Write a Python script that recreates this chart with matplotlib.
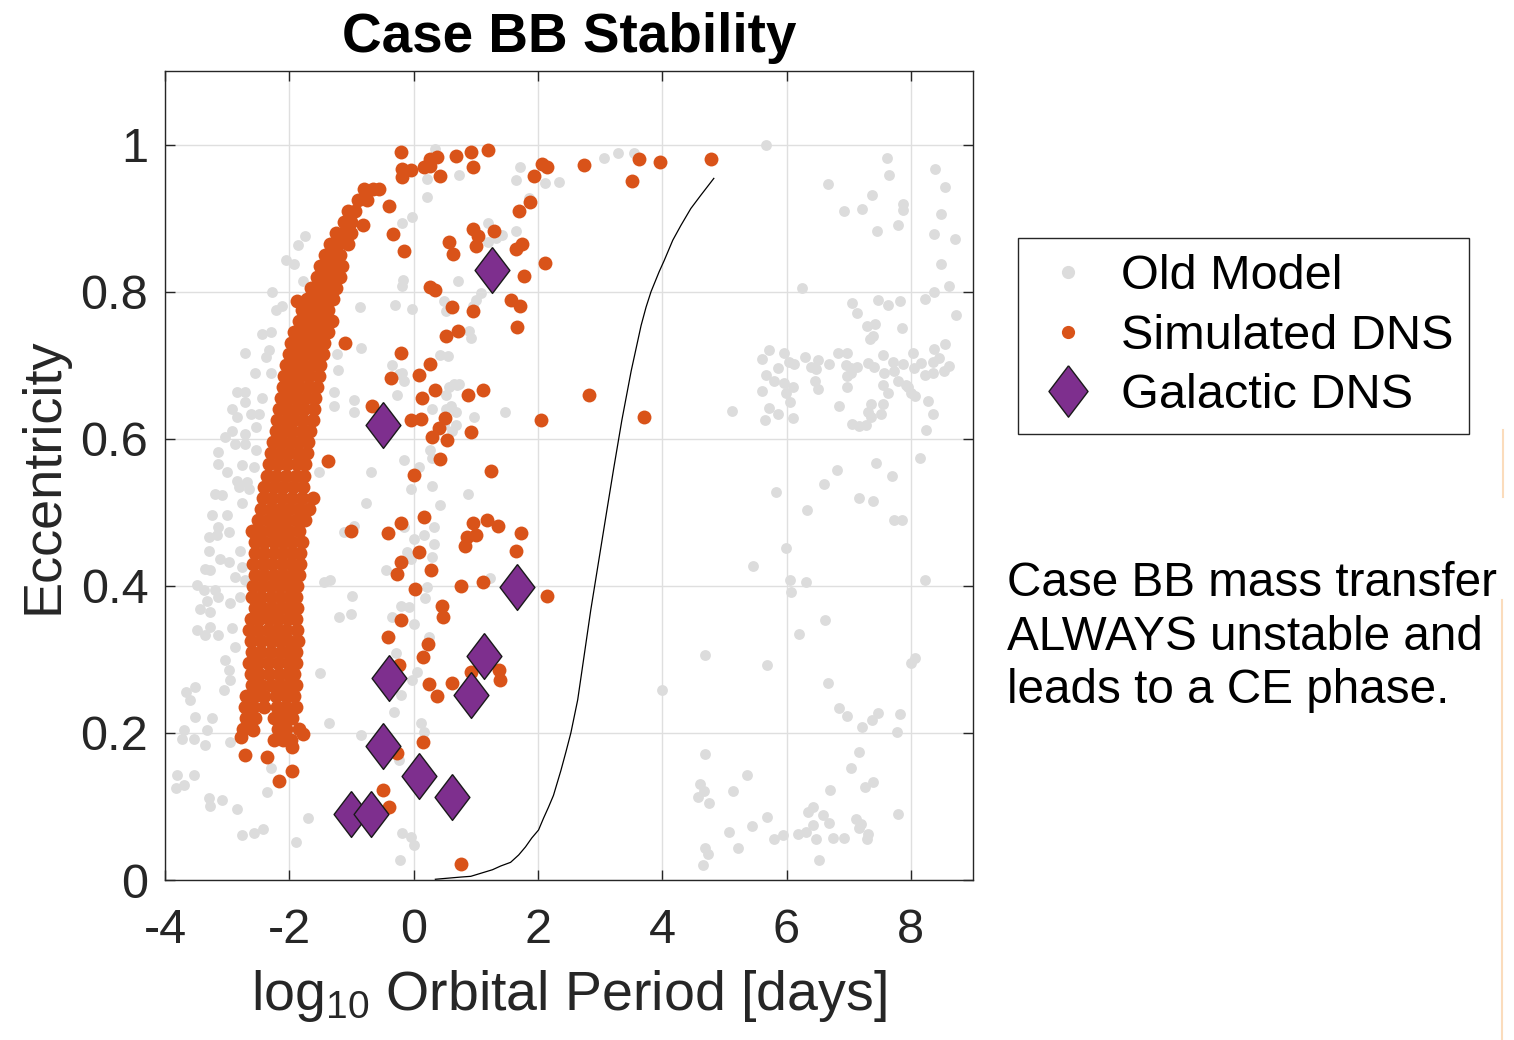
import numpy as np
import matplotlib
matplotlib.use("Agg")
import matplotlib.pyplot as plt
from matplotlib.lines import Line2D

plt.rcParams['font.family'] = ['Liberation Sans', 'DejaVu Sans']
plt.rcParams['mathtext.fontset'] = 'custom'
plt.rcParams['mathtext.rm'] = 'Liberation Sans'
plt.rcParams['mathtext.default'] = 'regular'

# ---- data (log10 P [days], eccentricity) ----
# old model points (grey)
old_left = [(-1.74,0.875),(-1.86,0.863),(-2.06,0.843),(-1.93,0.838),(-1.78,0.815),(-2.28,0.799),(-2.11,0.781),
            (-2.22,0.775),(-2.44,0.743),(-2.29,0.745),(-2.71,0.716),(-2.33,0.720),(-2.38,0.711),(-2.56,0.690),
            (-2.30,0.690),(-2.71,0.663),(-2.84,0.663),(-2.72,0.650),(-2.92,0.641),(-2.84,0.629),(-2.44,0.656),
            (-2.62,0.634),(-2.49,0.634),(-3.03,0.602),(-2.92,0.611),(-2.71,0.607),(-2.54,0.616),(-2.87,0.593),
            (-2.71,0.593),(-3.15,0.582),(-2.54,0.584),(-3.14,0.566),(-3.00,0.555),(-2.76,0.564),(-2.57,0.562),
            (-2.84,0.543),(-2.68,0.541),(-3.19,0.525),(-3.08,0.523),(-2.81,0.534),(-2.65,0.532),(-2.76,0.512),
            (-3.14,0.480),(-3.24,0.496),(-3.00,0.496),(-3.30,0.466),(-3.30,0.448),(-3.16,0.469),(-2.97,0.473),
            (-3.11,0.437),(-2.97,0.432),(-3.35,0.423),(-3.27,0.421),(-2.79,0.448),(-2.76,0.426),(-2.87,0.412),
            (-2.71,0.408),(-3.48,0.401),(-3.38,0.394),(-3.19,0.394),(-3.33,0.380),(-3.43,0.369),(-3.14,0.385),
            (-3.27,0.364),(-2.95,0.376),(-2.79,0.385),(-3.27,0.344),(-3.48,0.340),(-3.35,0.333),(-3.14,0.333),
            (-2.92,0.342),(-2.87,0.317),(-3.03,0.299),(-2.97,0.285),(-2.95,0.272),(-3.05,0.258),(-3.51,0.263),
            (-3.67,0.256),(-3.59,0.245),(-3.51,0.222),(-3.24,0.220),(-3.70,0.204),(-3.33,0.204),(-3.73,0.192),
            (-3.54,0.192),(-3.35,0.183),(-2.95,0.188),(-3.81,0.143),(-3.54,0.143),(-3.70,0.129),(-3.83,0.125),
            (-3.30,0.112),(-3.08,0.109),(-3.27,0.100),(-2.84,0.097),(-2.76,0.061),(-2.57,0.064),(-2.43,0.069),
            (-2.29,0.152),(-2.36,0.119),(-1.90,0.052),(-1.70,0.084),(-1.50,0.281),(-1.36,0.214),(-1.44,0.405),
            (-1.34,0.408),(-1.20,0.358),(-1.01,0.362),(-0.99,0.386),(-1.12,0.473),(-0.96,0.482),(-0.77,0.513),
            (-0.85,0.197),(-1.28,0.663),(-1.28,0.644),(-0.96,0.636),(-0.96,0.652),(-1.23,0.715),(-1.22,0.693),
            (-0.85,0.724),(-0.87,0.779),(-0.69,0.555),(-1.52,0.555)]
old_mid = [(0.34,0.994),(0.73,0.959),(0.22,0.953),(0.21,0.928),(-0.02,0.902),(-0.18,0.894),(1.71,0.970),
           (1.64,0.952),(2.11,0.948),(2.34,0.949),(1.86,0.927),(1.19,0.893),(1.43,0.877),(1.64,0.882),
           (1.19,0.868),(1.32,0.873),(0.72,0.815),(-0.17,0.816),(-0.19,0.807),(-0.30,0.782),(-0.03,0.777),
           (0.49,0.787),(0.52,0.773),(1.08,0.798),(1.00,0.789),(0.95,0.780),(0.89,0.746),(0.92,0.737),
           (-0.35,0.700),(-0.18,0.689),(0.43,0.714),(0.56,0.712),(0.57,0.671),(0.70,0.673),(-0.26,0.660),
           (0.60,0.644),(0.68,0.637),(0.49,0.619),(0.68,0.619),(0.97,0.630),(1.47,0.637),(0.27,0.585),
           (0.30,0.574),(-0.16,0.571),(-0.24,0.688),(-0.16,0.679),(0.65,0.675),(0.73,0.675),(0.52,0.660),
           (0.30,0.641),(0.52,0.641),(0.62,0.611),(0.09,0.561),(0.30,0.536),(-0.05,0.531),(0.87,0.525),
           (0.42,0.510),(-0.16,0.480),(0.01,0.464),(0.17,0.469),(0.33,0.480),(0.33,0.457),(0.30,0.439),
           (-0.10,0.446),(-0.05,0.437),(-0.45,0.422),(0.21,0.399),(0.19,0.384),(1.23,0.410),(-0.20,0.372),
           (-0.08,0.371),(-0.34,0.358),(0.00,0.348),(0.25,0.331),(-0.29,0.308),(0.06,0.283),(-0.02,0.272),
           (-0.21,0.251),(-0.32,0.229),(0.12,0.214),(0.16,0.201),(-0.24,0.163),(-0.18,0.064),(-0.05,0.058),
           (0.01,0.048),(-0.22,0.027),(3.06,0.982),(3.29,0.989),(3.55,0.989)]
old_right = [(5.67,1.000),(7.62,0.982),(7.65,0.959),(8.39,0.967),(8.55,0.942),(6.67,0.946),(7.37,0.931),
             (6.93,0.909),(7.22,0.912),(7.87,0.919),(7.87,0.911),(8.49,0.905),(7.80,0.890),(7.45,0.883),
             (8.37,0.878),(8.71,0.871),(8.49,0.837),(6.25,0.805),(8.62,0.807),(8.38,0.799),(8.22,0.790),
             (7.06,0.784),(7.14,0.771),(7.47,0.789),(7.63,0.782),(7.83,0.787),(8.73,0.768),(7.29,0.753),
             (7.42,0.756),(7.86,0.751),(7.39,0.739),(7.35,0.735),(8.55,0.729),(8.37,0.722),
             (5.71,0.720),(5.96,0.717),(5.61,0.709),(6.29,0.711),(6.51,0.707),(6.82,0.716),(6.97,0.717),
             (6.04,0.705),(6.12,0.701),(5.86,0.696),(5.67,0.687),(6.39,0.697),(6.47,0.695),(6.69,0.701),
             (6.96,0.700),(7.04,0.696),(7.14,0.697),(7.31,0.703),(7.41,0.698),(7.55,0.714),(7.71,0.705),
             (7.87,0.701),(8.03,0.716),(8.16,0.703),(8.35,0.705),(8.46,0.710),(8.62,0.699),(8.54,0.692),
             (8.35,0.689),(8.22,0.687),(8.05,0.696),(7.73,0.692),(7.57,0.689),(7.04,0.689),(6.98,0.685),
             (5.80,0.678),(5.96,0.676),(6.10,0.671),(6.45,0.678),(6.50,0.667),(6.98,0.670),(7.55,0.673),
             (7.63,0.662),(7.79,0.678),(7.92,0.673),(8.00,0.662),(5.60,0.665),(5.99,0.662),(6.05,0.650),
             (5.72,0.642),(5.86,0.634),(5.66,0.625),(6.10,0.628),(5.13,0.638),(6.84,0.645),(7.36,0.647),
             (7.55,0.647),(7.31,0.637),(7.36,0.630),(7.52,0.634),(8.27,0.651),(8.35,0.634),(8.24,0.612),
             (7.06,0.620),(7.17,0.617),(7.28,0.618),(7.95,0.670),(8.06,0.658),(6.81,0.558),(7.44,0.567),
             (8.14,0.574),(7.69,0.549),(6.60,0.539),(5.83,0.527),(7.17,0.520),(7.39,0.516),(6.33,0.503),
             (7.73,0.489),(7.86,0.489),(5.99,0.451),(5.46,0.427),(6.05,0.408),(6.32,0.405),(6.07,0.392),
             (8.22,0.408),(6.62,0.354),(6.20,0.335),(4.69,0.306),(5.68,0.293),(8.06,0.302),(8.01,0.295),
             (4.00,0.258),(6.66,0.268),(6.84,0.234),(6.98,0.223),(7.22,0.208),(7.37,0.218),(7.47,0.227),
             (7.82,0.226),(7.78,0.201),(4.69,0.172),(7.17,0.174),(7.03,0.152),(5.36,0.143),(4.61,0.130),
             (4.68,0.121),(4.57,0.113),(4.76,0.105),(5.14,0.121),(7.26,0.127),(7.39,0.133),(6.70,0.122),
             (5.68,0.085),(5.44,0.073),(5.08,0.065),(6.34,0.093),(6.42,0.099),(6.58,0.088),(6.42,0.075),
             (6.68,0.077),(7.11,0.083),(7.20,0.076),(7.17,0.071),(7.80,0.090),(7.31,0.063),(7.29,0.056),
             (5.80,0.056),(5.95,0.061),(6.18,0.063),(6.32,0.065),(6.48,0.056),(6.74,0.057),(6.93,0.057),
             (5.22,0.044),(4.69,0.044),(4.73,0.035),(4.65,0.020),(6.52,0.027)]

# simulated DNS: dense band, one row per eccentricity level
sim_band_rows = [
    (0.940, [-0.80, -0.65, -0.55]), (0.925, [-0.90, -0.75]), (0.910, [-1.05, -0.95]),
    (0.895, [-1.12, -1.00]), (0.880, [-1.25, -1.12, -1.00]), (0.865, [-1.35, -1.22, -1.05]),
    (0.850, [-1.42, -1.30, -1.18]), (0.835, [-1.50, -1.38, -1.25, -1.15]),
    (0.820, [-1.55, -1.42, -1.30, -1.18]), (0.805, [-1.65, -1.52, -1.40, -1.25]),
    (0.790, [-1.72, -1.58, -1.45, -1.30]), (0.775, [-1.80, -1.66, -1.52, -1.38]),
    (0.760, [-1.85, -1.72, -1.58, -1.42, -1.32]), (0.745, [-1.92, -1.78, -1.64, -1.50, -1.38]),
    (0.730, [-1.98, -1.84, -1.70, -1.56, -1.44]), (0.715, [-2.00, -1.88, -1.75, -1.60, -1.46]),
    (0.700, [-2.05, -1.92, -1.78, -1.64, -1.50]), (0.685, [-2.08, -1.95, -1.82, -1.68, -1.52]),
    (0.670, [-2.10, -1.98, -1.85, -1.70, -1.55]), (0.655, [-2.14, -2.00, -1.87, -1.73, -1.58]),
    (0.640, [-2.17, -2.03, -1.90, -1.76, -1.60]), (0.625, [-2.20, -2.06, -1.92, -1.78, -1.62]),
    (0.610, [-2.22, -2.08, -1.95, -1.80, -1.66]), (0.595, [-2.26, -2.12, -1.98, -1.84, -1.70]),
    (0.580, [-2.30, -2.15, -2.00, -1.86, -1.72]), (0.565, [-2.33, -2.18, -2.03, -1.88, -1.74]),
    (0.550, [-2.36, -2.22, -2.06, -1.90, -1.76]), (0.535, [-2.40, -2.25, -2.10, -1.94, -1.78]),
    (0.520, [-2.42, -2.28, -2.12, -1.96, -1.80, -1.62]), (0.505, [-2.45, -2.30, -2.15, -2.00, -1.84, -1.68]),
    (0.490, [-2.50, -2.35, -2.20, -2.05, -1.90, -1.75]), (0.475, [-2.60, -2.45, -2.30, -2.15, -2.00, -1.85]),
    (0.460, [-2.55, -2.40, -2.25, -2.10, -1.95, -1.80]), (0.445, [-2.55, -2.40, -2.25, -2.10, -1.95, -1.82]),
    (0.430, [-2.58, -2.42, -2.28, -2.12, -1.98, -1.82]), (0.415, [-2.55, -2.40, -2.25, -2.10, -1.95, -1.85]),
    (0.400, [-2.58, -2.44, -2.30, -2.15, -2.00, -1.88]), (0.385, [-2.60, -2.45, -2.30, -2.15, -2.00, -1.90]),
    (0.370, [-2.55, -2.42, -2.28, -2.14, -2.00, -1.88]), (0.355, [-2.62, -2.48, -2.32, -2.18, -2.02, -1.90]),
    (0.340, [-2.65, -2.50, -2.35, -2.20, -2.05, -1.88]), (0.325, [-2.62, -2.46, -2.30, -2.15, -2.00, -1.86]),
    (0.310, [-2.60, -2.45, -2.30, -2.14, -2.00, -1.90]), (0.295, [-2.65, -2.50, -2.34, -2.18, -2.02, -1.90]),
    (0.280, [-2.62, -2.48, -2.32, -2.16, -2.02, -1.92]), (0.265, [-2.60, -2.45, -2.30, -2.15, -2.00, -1.90]),
    (0.250, [-2.70, -2.55, -2.40, -2.22, -2.05, -1.92]), (0.235, [-2.72, -2.58, -2.40, -2.20, -2.05, -1.90]),
    (0.220, [-2.70, -2.55, -2.25, -2.10, -1.95]), (0.205, [-2.75, -2.60, -2.18, -2.05, -1.85]),
    (0.190, [-2.25, -2.10, -1.98]),
]
# simulated DNS: scattered systems away from the band
sim_scatter = [(-0.20,0.990),(0.27,0.981),(0.38,0.983),(0.17,0.969),(0.27,0.971),(0.68,0.984),(0.92,0.990),
               (1.20,0.992),(0.95,0.970),(0.43,0.957),(-0.18,0.967),(-0.05,0.965),(-0.18,0.956),(2.07,0.974),
               (2.15,0.969),(2.74,0.972),(1.93,0.957),(1.88,0.922),(1.69,0.910),(-0.40,0.916),(-0.81,0.891),
               (-0.33,0.878),(-0.16,0.855),(0.95,0.885),(1.03,0.876),(1.29,0.883),(0.57,0.868),(0.64,0.851),
               (1.01,0.862),(1.75,0.865),(1.64,0.858),(2.12,0.839),(1.78,0.821),(0.27,0.806),(0.34,0.802),
               (1.56,0.788),(1.71,0.780),(0.62,0.779),(0.95,0.774),(1.67,0.752),(0.71,0.747),(0.52,0.740),
               (3.62,0.980),(3.96,0.976),(4.79,0.980),(3.51,0.951),(2.82,0.660),(3.70,0.629),
               (-0.20,0.716),(-0.36,0.683),(0.09,0.687),(0.27,0.702),(0.35,0.666),(0.14,0.656),(0.87,0.659),
               (1.11,0.666),(-0.67,0.645),(-0.05,0.626),(0.12,0.627),(0.50,0.628),(0.41,0.614),(0.30,0.602),
               (0.53,0.598),(0.92,0.609),(2.05,0.626),(0.42,0.572),(0.00,0.551),(1.24,0.556),
               (-0.42,0.472),(-0.20,0.486),(0.17,0.493),(0.09,0.446),(-0.20,0.433),(-0.26,0.416),(0.28,0.421),
               (0.03,0.396),(0.96,0.486),(1.18,0.489),(1.36,0.481),(0.86,0.466),(1.01,0.469),(0.82,0.454),
               (1.73,0.472),(1.64,0.447),(0.76,0.400),(1.12,0.405),(2.15,0.386),(0.45,0.373),(0.48,0.357),
               (-0.20,0.354),(-0.42,0.330),(0.23,0.321),(0.15,0.303),(-0.24,0.292),(1.37,0.286),(1.39,0.272),
               (0.92,0.283),(0.25,0.267),(0.61,0.268),(0.37,0.250),(0.15,0.188),(-0.26,0.173),(-0.49,0.123),
               (-0.40,0.099),(0.76,0.022),(-1.01,0.475),(-2.71,0.170),(-2.36,0.167),(-2.17,0.135),
               (-1.95,0.148),(-1.96,0.181),(-1.78,0.199),(-2.77,0.195),(-2.59,0.204),(-1.11,0.730),
               (-1.37,0.570),(-1.88,0.787)]

# observed galactic double neutron stars
gal_logp = [1.26, -0.50, 1.66, 1.13, -0.39, 0.92, -0.50, 0.08, 0.61, -1.01, -0.69]
gal_ecc = [0.829, 0.618, 0.398, 0.304, 0.274, 0.251, 0.182, 0.141, 0.113, 0.090, 0.090]

# stability boundary curve
curve_logp = [0.35, 0.76, 0.92, 1.27, 1.40, 1.56, 1.69, 1.80, 1.90, 2.01, 2.09, 2.17, 2.25, 2.37, 2.45,
              2.53, 2.64, 2.74, 2.85, 2.98, 3.11, 3.22, 3.35, 3.50, 3.66, 3.74, 3.82, 3.95, 4.03, 4.17,
              4.30, 4.46, 4.62, 4.83]
curve_ecc = [0.001, 0.004, 0.005, 0.014, 0.019, 0.024, 0.034, 0.045, 0.057, 0.068, 0.084, 0.099, 0.115,
             0.149, 0.174, 0.200, 0.245, 0.303, 0.367, 0.435, 0.503, 0.560, 0.625, 0.692, 0.754, 0.779,
             0.800, 0.827, 0.842, 0.870, 0.890, 0.913, 0.931, 0.954]

xticks = [-4, -2, 0, 2, 4, 6, 8]
xtick_labels = ['-4', '-2', '0', '2', '4', '6', '8']
yticks = [0, 0.2, 0.4, 0.6, 0.8, 1]
ytick_labels = ['0', '0.2', '0.4', '0.6', '0.8', '1']

old_x, old_y = zip(*(old_left + old_mid + old_right))
band_x = [x for y, xs in sim_band_rows for x in xs]
band_y = [y for y, xs in sim_band_rows for x in xs]
sc_x, sc_y = zip(*sim_scatter)
sim_x = band_x + list(sc_x)
sim_y = band_y + list(sc_y)

GREY = '#dcdcdc'
ORANGE = '#d95319'
PURPLE = '#7e2f8e'
DARK = '#262626'
diamond = [(0, 1), (0.76, 0), (0, -1), (-0.76, 0), (0, 1)]

W, H = 1514, 1040
fig = plt.figure(figsize=(W / 100, H / 100), dpi=100)
ax = fig.add_axes([165 / W, 1 - 880 / H, 808 / W, 809 / H])

ax.plot(old_x, old_y, 'o', color=GREY, ms=7.8, mew=0, zorder=2)
ax.plot(sim_x, sim_y, 'o', color=ORANGE, ms=10, mew=0, zorder=3)
ax.plot(curve_logp, curve_ecc, '-', color='black', lw=0.9, zorder=4)
ax.plot(gal_logp, gal_ecc, linestyle='none', marker=diamond, ms=33, mfc=PURPLE,
        mec='#1a1a1a', mew=1.0, zorder=5)

ax.set_xlim(-4, 9)
ax.set_ylim(0, 1.1)
ax.set_xticks(xticks)
ax.set_xticklabels(xtick_labels)
ax.set_yticks(yticks)
ax.set_yticklabels(ytick_labels)
ax.grid(True, color='#dfdfdf', lw=1.0)
ax.set_axisbelow(True)
ax.tick_params(direction='in', length=7, width=1, color=DARK, labelcolor=DARK,
               labelsize=35, top=True, right=True)
ax.tick_params(axis='x', pad=20)
ax.tick_params(axis='y', pad=12)
for sp in ax.spines.values():
    sp.set_color(DARK)
    sp.set_linewidth(1.0)

ax.set_title('Case BB Stability', fontsize=39.5, fontweight='bold', pad=14)
ax.set_xlabel('log$_{10}$ Orbital Period [days]', fontsize=40, color=DARK)
ax.set_ylabel('Eccentricity', fontsize=39, color=DARK)
ax.xaxis.set_label_coords(0.5, -0.109)
ax.yaxis.set_label_coords(-0.120, 0.5)

handles = [Line2D([], [], ls='none', marker='o', color=GREY, ms=9.5, mew=0),
           Line2D([], [], ls='none', marker='o', color=ORANGE, ms=9.5, mew=0),
           Line2D([], [], ls='none', marker=diamond, ms=37, mfc=PURPLE, mec='#1a1a1a', mew=1.0)]
leg = fig.legend(handles, ['Old Model', 'Simulated DNS', 'Galactic DNS'],
                 loc='upper left', bbox_to_anchor=(1018 / W, 1 - 238 / H),
                 bbox_transform=fig.transFigure, borderaxespad=0, fontsize=35,
                 frameon=True, fancybox=False, edgecolor=DARK, framealpha=1,
                 borderpad=0.33, labelspacing=0.30, handlelength=1.4, handletextpad=0.38)
leg.get_frame().set_linewidth(1.0)

note = ['Case BB mass transfer', 'ALWAYS unstable and', 'leads to a CE phase.']
for i, line in enumerate(note):
    fig.text(1007 / W, 1 - (596 + 53.5 * i) / H, line, fontsize=34.3, va='baseline', ha='left')

# faint stray edge line on the right
fig.add_artist(Line2D([1503 / W, 1503 / W], [1 - 430 / H, 1 - 497 / H], color='#fbdcbc', lw=1.5))
fig.add_artist(Line2D([1502 / W, 1502 / W], [1 - 600 / H, 0], color='#fbdcbc', lw=1.5))

fig.savefig('out.png', dpi=100)
